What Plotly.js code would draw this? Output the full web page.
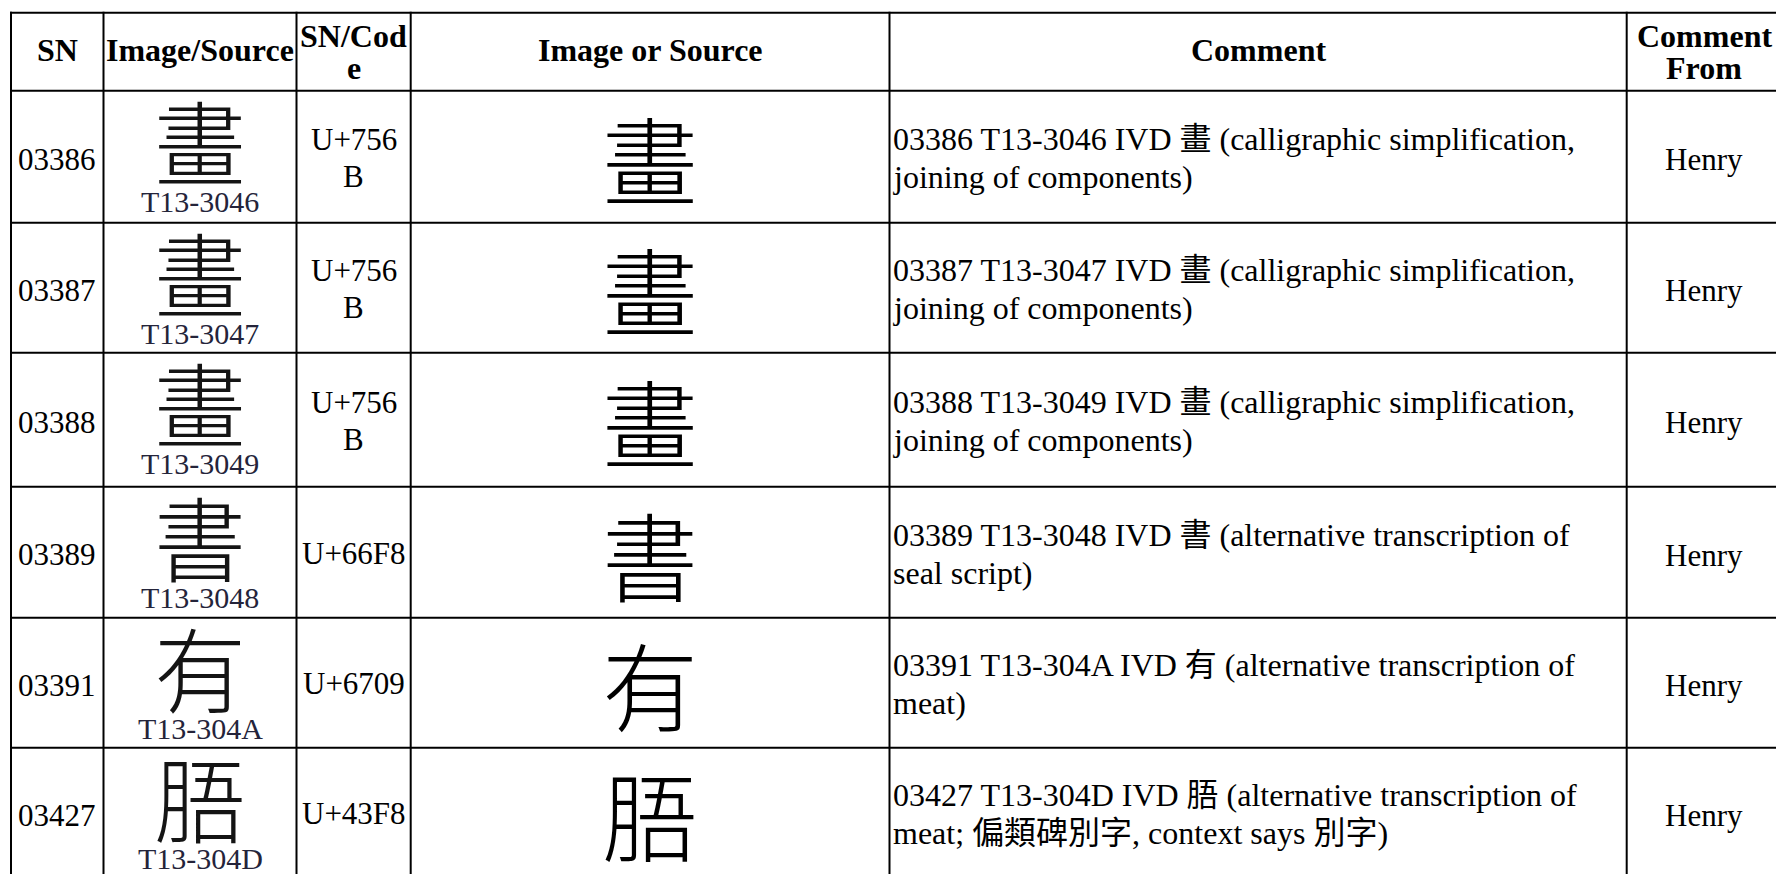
<!DOCTYPE html>
<html>
<head>
<meta charset="utf-8">
<script src="https://cdn.plot.ly/plotly-3.0.1.min.js"></script>
<style>
html,body{margin:0;padding:0;background:#ffffff;overflow:hidden;}
#chart{width:1776px;height:874px;}
</style>
</head>
<body>
<div id="chart"></div>
<script>
// ---------- table content ----------
const headers = ['SN', 'Image/Source', 'SN/Code', 'Image or Source', 'Comment', 'Comment From'];
const serialNumbers = ['03386', '03387', '03388', '03389', '03391', '03427'];
const sourceGlyphs = ['畫', '畫', '畫', '書', '有', '\u43F8'];
const sourceLabels = ['T13-3046', 'T13-3047', 'T13-3049', 'T13-3048', 'T13-304A', 'T13-304D'];
const codePoints = ['U+756B', 'U+756B', 'U+756B', 'U+66F8', 'U+6709', 'U+43F8'];
const comments = [
  '03386 T13-3046 IVD 畫 (calligraphic simplification,\njoining of components)',
  '03387 T13-3047 IVD 畫 (calligraphic simplification,\njoining of components)',
  '03388 T13-3049 IVD 畫 (calligraphic simplification,\njoining of components)',
  '03389 T13-3048 IVD 書 (alternative transcription of\nseal script)',
  '03391 T13-304A IVD 有 (alternative transcription of\nmeat)',
  '03427 T13-304D IVD \u43F8 (alternative transcription of\nmeat; 偏類碑別字, context says 別字)'
];
const commentFrom = ['Henry', 'Henry', 'Henry', 'Henry', 'Henry', 'Henry'];

// ---------- layout (positions / styles) ----------
const W = 1776, H = 874;
const colEdges = [11, 103.5, 296.5, 410.7, 889.5, 1626.7, 1782];
const rowEdges = [12.7, 90.7, 222.7, 352.7, 486.7, 617.7, 747.7, 878];
const serif = '"Liberation Serif", "Noto Sans CJK TC", serif';
const cjk = '"Noto Sans CJK TC", "Noto Sans CJK SC", sans-serif';
const headerSize = 32, bodySize = 31, commentSize = 32;
const headerLineGap = 32, bodyLineGap = 37, commentLineGap = 38;

const canvas = document.createElement('canvas');
const ctx = canvas.getContext('2d');
function textWidth(t, font) { ctx.font = font; return ctx.measureText(t).width; }
function breakWord(word, font, maxW) {
  const out = []; let cur = '';
  for (const ch of word) {
    if (cur && textWidth(cur + ch, font) > maxW) { out.push(cur); cur = ch; }
    else cur += ch;
  }
  if (cur) out.push(cur);
  return out;
}
function wrap(text, font, maxW) {
  const lines = [];
  text.split('\n').forEach(par => {
    let cur = '';
    par.split(' ').forEach(word => {
      const trial = cur ? cur + ' ' + word : word;
      if (textWidth(trial, font) <= maxW) { cur = trial; return; }
      if (cur) lines.push(cur);
      if (textWidth(word, font) > maxW) {
        const parts = breakWord(word, font, maxW);
        cur = parts.pop();
        parts.forEach(p => lines.push(p));
      } else cur = word;
    });
    if (cur) lines.push(cur);
  });
  return lines;
}

const annotations = [];
const shapes = [];
function addText(x, y, text, opts) {
  annotations.push(Object.assign({
    xref: 'x', yref: 'y', x: x, y: y, text: text, showarrow: false,
    xanchor: 'center', yanchor: 'middle', borderpad: 0
  }, opts));
}
function addLines(x, cy, lines, gap, opts) {
  const n = lines.length;
  lines.forEach((ln, i) => addText(x, cy + (i - (n - 1) / 2) * gap, ln, opts));
}

// grid lines
const lineStyle = { color: '#000000', width: 2 };
rowEdges.forEach(y => shapes.push({ type: 'line', xref: 'x', yref: 'y', x0: colEdges[0] - 1, x1: colEdges[colEdges.length - 1], y0: y, y1: y, line: lineStyle }));
colEdges.forEach(x => shapes.push({ type: 'line', xref: 'x', yref: 'y', x0: x, x1: x, y0: rowEdges[0] - 1, y1: rowEdges[rowEdges.length - 1], line: lineStyle }));

const colMid = i => (colEdges[i] + colEdges[i + 1]) / 2;
const colW = i => colEdges[i + 1] - colEdges[i];

// header
headers.forEach((h, c) => {
  const font = 'bold ' + headerSize + 'px "Liberation Serif"';
  const lines = wrap(h, font, colW(c) - 2);
  const cy = lines.length === 1 ? 50 : 52;
  addLines(colMid(c), cy, lines, headerLineGap,
    { font: { family: serif, size: headerSize, color: '#000000', weight: 'bold' } });
});

// body
const bodyFont = { family: serif, size: bodySize, color: '#000000' };
serialNumbers.forEach((sn, r) => {
  const top = rowEdges[r + 1], bot = rowEdges[r + 2];
  const mid = (top + bot) / 2;
  // SN
  addText(colMid(0), mid + 2.5, sn, { font: bodyFont });
  // Image / Source : glyph + label
  addText(colMid(1), top + 48, sourceGlyphs[r], { font: { family: cjk, size: 92, color: '#141414', weight: 300 } });
  addText(colMid(1), top + 111, sourceLabels[r], { font: { family: serif, size: 30, color: '#24243a' } });
  // code point
  const codeLines = wrap(codePoints[r], bodySize + 'px "Liberation Serif"', colW(2) - 10);
  addLines(colMid(2), mid + 1, codeLines, bodyLineGap, { font: bodyFont });
  // big character derived from the code point
  const ch = String.fromCodePoint(parseInt(codePoints[r].slice(2), 16));
  addText(colMid(3), mid, ch, { font: { family: cjk, size: 96, color: '#000000', weight: 300 } });
  // comment
  addLines(colEdges[4] + 2, mid + 1.5, comments[r].split('\n'), commentLineGap,
    { font: { family: serif, size: commentSize, color: '#000000' }, xanchor: 'left', align: 'left' });
  // comment from
  addText(colMid(5), mid + 3, commentFrom[r], { font: bodyFont });
});

const layout = {
  width: W, height: H,
  margin: { l: 0, r: 0, t: 0, b: 0, pad: 0 },
  paper_bgcolor: '#ffffff', plot_bgcolor: '#ffffff',
  showlegend: false, hovermode: false,
  xaxis: { range: [0, W], visible: false, fixedrange: true, showgrid: false, zeroline: false },
  yaxis: { range: [H, 0], visible: false, fixedrange: true, showgrid: false, zeroline: false },
  shapes: shapes,
  annotations: annotations
};
Plotly.newPlot('chart', [], layout, { staticPlot: true, displayModeBar: false });
</script>
</body>
</html>
